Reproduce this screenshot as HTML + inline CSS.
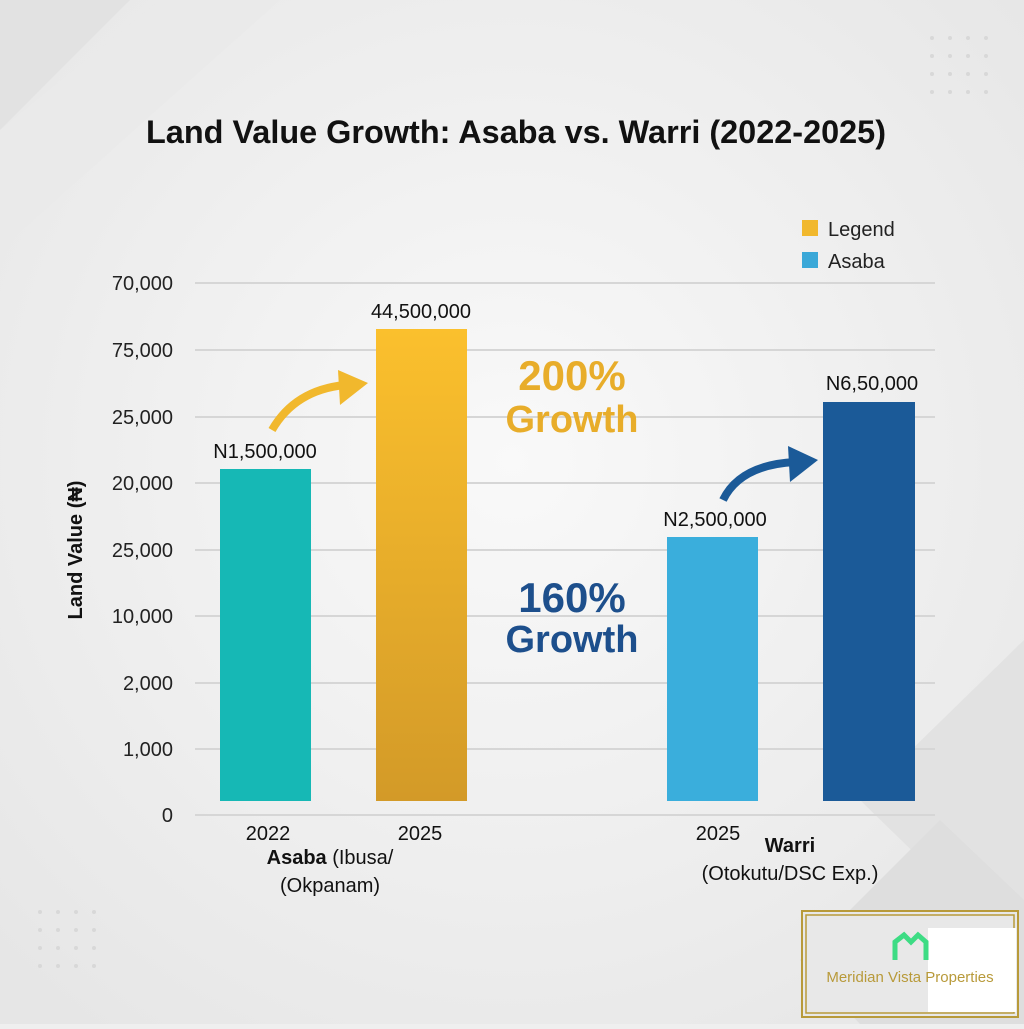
<!DOCTYPE html>
<html><head><meta charset="utf-8"><style>
body{margin:0;width:1024px;height:1024px;overflow:hidden;background:#efefef;font-family:"Liberation Sans",sans-serif;}
</style></head><body>
<svg width="1024" height="1024" viewBox="0 0 1024 1024" xmlns="http://www.w3.org/2000/svg" font-family="Liberation Sans, sans-serif">
<defs>
<radialGradient id="bg" cx="50%" cy="45%" r="70%"><stop offset="0" stop-color="#f9f9f9"/><stop offset="1" stop-color="#e6e6e6"/></radialGradient>
<linearGradient id="gold" x1="0" y1="0" x2="0" y2="1"><stop offset="0" stop-color="#fbc02d"/><stop offset="1" stop-color="#d39a28"/></linearGradient>
</defs>
<rect width="1024" height="1024" fill="url(#bg)"/>
<polygon points="0,0 130,0 0,130" fill="#e2e2e2"/>
<polygon points="0,130 160,0 280,0 0,250" fill="#e9e9e9" opacity="0.7"/>
<polygon points="1024,640 860,800 1024,960" fill="#e2e2e2"/>
<polygon points="800,960 940,820 1024,900 1024,1024 860,1024" fill="#dedede"/>
<g fill="#d8d8d8">
<circle cx="932" cy="38" r="2"/><circle cx="950" cy="38" r="2"/><circle cx="968" cy="38" r="2"/><circle cx="986" cy="38" r="2"/>
<circle cx="932" cy="56" r="2"/><circle cx="950" cy="56" r="2"/><circle cx="968" cy="56" r="2"/><circle cx="986" cy="56" r="2"/>
<circle cx="932" cy="74" r="2"/><circle cx="950" cy="74" r="2"/><circle cx="968" cy="74" r="2"/><circle cx="986" cy="74" r="2"/>
<circle cx="932" cy="92" r="2"/><circle cx="950" cy="92" r="2"/><circle cx="968" cy="92" r="2"/><circle cx="986" cy="92" r="2"/>
<circle cx="40" cy="912" r="2"/><circle cx="58" cy="912" r="2"/><circle cx="76" cy="912" r="2"/><circle cx="94" cy="912" r="2"/>
<circle cx="40" cy="930" r="2"/><circle cx="58" cy="930" r="2"/><circle cx="76" cy="930" r="2"/><circle cx="94" cy="930" r="2"/>
<circle cx="40" cy="948" r="2"/><circle cx="58" cy="948" r="2"/><circle cx="76" cy="948" r="2"/><circle cx="94" cy="948" r="2"/>
<circle cx="40" cy="966" r="2"/><circle cx="58" cy="966" r="2"/><circle cx="76" cy="966" r="2"/><circle cx="94" cy="966" r="2"/>
</g>
<text x="516" y="143" text-anchor="middle" font-size="32" font-weight="bold" fill="#111" textLength="740" lengthAdjust="spacingAndGlyphs">Land Value Growth: Asaba vs. Warri (2022-2025)</text>
<rect x="802" y="220" width="16" height="16" fill="#f1b82d"/><text x="828" y="236" font-size="20" fill="#222">Legend</text>
<rect x="802" y="252" width="16" height="16" fill="#3aa8d8"/><text x="828" y="268" font-size="20" fill="#222">Asaba</text>
<g stroke="#d6d6d6" stroke-width="2">
<line x1="195" y1="283" x2="935" y2="283"/><line x1="195" y1="350" x2="935" y2="350"/><line x1="195" y1="417" x2="935" y2="417"/>
<line x1="195" y1="483" x2="935" y2="483"/><line x1="195" y1="550" x2="935" y2="550"/><line x1="195" y1="616" x2="935" y2="616"/>
<line x1="195" y1="683" x2="935" y2="683"/><line x1="195" y1="749" x2="935" y2="749"/><line x1="195" y1="815" x2="935" y2="815"/>
</g>
<g font-size="20" fill="#222" text-anchor="end">
<text x="173" y="290">70,000</text><text x="173" y="357">75,000</text><text x="173" y="424">25,000</text>
<text x="173" y="490">20,000</text><text x="173" y="557">25,000</text><text x="173" y="623">10,000</text>
<text x="173" y="690">2,000</text><text x="173" y="756">1,000</text><text x="173" y="822">0</text>
</g>
<text transform="translate(82,550) rotate(-90)" text-anchor="middle" font-size="20" font-weight="bold" fill="#111">Land Value (₦)</text>
<rect x="220" y="469" width="91" height="332" fill="#16b8b5"/>
<rect x="376" y="329" width="91" height="472" fill="url(#gold)"/>
<rect x="667" y="537" width="91" height="264" fill="#3aaedc"/>
<rect x="823" y="402" width="92" height="399" fill="#1b5a98"/>
<g font-size="20" fill="#111" text-anchor="middle">
<text x="265" y="458">N1,500,000</text><text x="421" y="318">44,500,000</text>
<text x="715" y="526">N2,500,000</text><text x="872" y="390">N6,50,000</text>
<text x="268" y="840">2022</text><text x="420" y="840">2025</text><text x="718" y="840">2025</text>
<text x="330" y="864"><tspan font-weight="bold">Asaba</tspan> (Ibusa/</text>
<text x="330" y="892">(Okpanam)</text>
<text x="790" y="852" font-weight="bold">Warri</text>
<text x="790" y="880">(Otokutu/DSC Exp.)</text>
</g>
<text x="572" y="390" text-anchor="middle" font-size="42" font-weight="bold" fill="#e8ad2a">200%</text>
<text x="572" y="432" text-anchor="middle" font-size="38" font-weight="bold" fill="#e8ad2a">Growth</text>
<text x="572" y="612" text-anchor="middle" font-size="42" font-weight="bold" fill="#1d4f8c">160%</text>
<text x="572" y="652" text-anchor="middle" font-size="38" font-weight="bold" fill="#1d4f8c">Growth</text>
<path d="M272,430 Q295,390 345,385" stroke="#f1b82d" stroke-width="8" fill="none"/>
<polygon points="338,370 368,383 340,405" fill="#f1b82d"/>
<path d="M723,500 Q740,465 795,462" stroke="#1b5a98" stroke-width="8" fill="none"/>
<polygon points="788,446 818,460 790,482" fill="#1b5a98"/>
<rect x="802" y="911" width="216" height="106" fill="#e8e8e8" stroke="#b89a3a" stroke-width="2"/>
<rect x="806" y="915" width="208" height="98" fill="none" stroke="#b89a3a" stroke-width="1.5"/>
<rect x="928" y="928" width="88" height="84" fill="#fff"/>
<path d="M895,960 V942 L904,935 L911,942 L918,935 L926,942 V960" stroke="#3ddc84" stroke-width="5" fill="none"/>
<text x="910" y="982" text-anchor="middle" font-size="15" fill="#b89a3a">Meridian Vista Properties</text>
</svg>
</body></html>
